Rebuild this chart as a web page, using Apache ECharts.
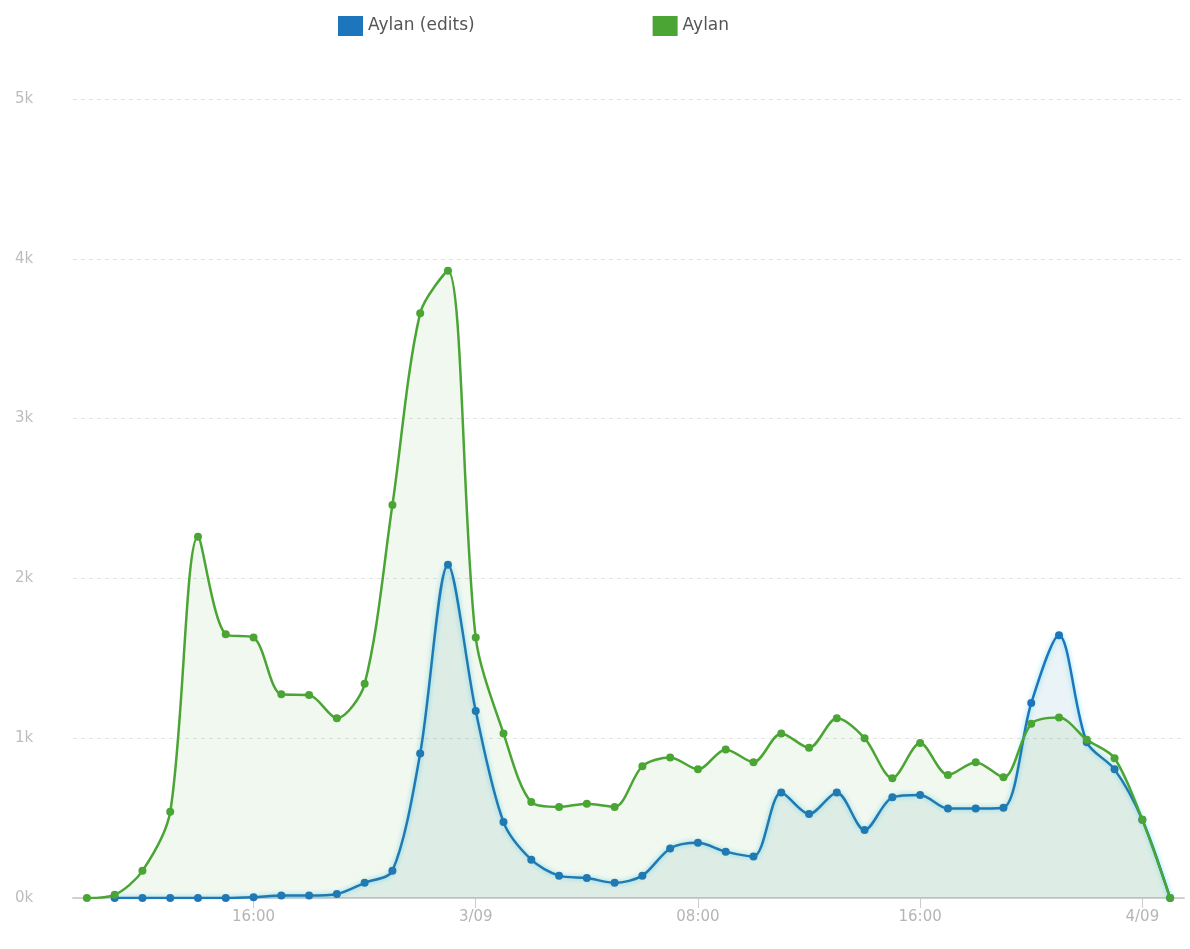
<!DOCTYPE html>
<html>
<head>
<meta charset="utf-8">
<style>
  html, body { margin: 0; padding: 0; background: #ffffff; }
  #chart { width: 1190px; height: 949px; }
</style>
<script src="https://cdn.jsdelivr.net/npm/echarts@6/dist/echarts.min.js"></script>
</head>
<body>
<div id="chart"></div>
<script>
// Hourly categories from 2/09 10:00 to 4/09 01:00
const categories = [
  "2/09 10:00","2/09 11:00","2/09 12:00","2/09 13:00","2/09 14:00","2/09 15:00",
  "2/09 16:00","2/09 17:00","2/09 18:00","2/09 19:00","2/09 20:00","2/09 21:00",
  "2/09 22:00","2/09 23:00","3/09 00:00","3/09 01:00","3/09 02:00","3/09 03:00",
  "3/09 04:00","3/09 05:00","3/09 06:00","3/09 07:00","3/09 08:00","3/09 09:00",
  "3/09 10:00","3/09 11:00","3/09 12:00","3/09 13:00","3/09 14:00","3/09 15:00",
  "3/09 16:00","3/09 17:00","3/09 18:00","3/09 19:00","3/09 20:00","3/09 21:00",
  "3/09 22:00","3/09 23:00","4/09 00:00","4/09 01:00"
];

const seriesNames = ["Aylan (edits)", "Aylan"];

const aylanEdits = [
  null, 0, 0, 0, 0, 0,
  5, 15, 15, 25, 95, 170,
  905, 2085, 1170, 475, 240, 140,
  125, 95, 140, 310, 345, 290,
  260, 660, 525, 660, 425, 630,
  645, 560, 560, 565, 1220, 1645,
  975, 805, 490, 0
];

const aylan = [
  0, 20, 170, 540, 2260, 1650,
  1630, 1275, 1270, 1125, 1340, 2460,
  3660, 3925, 1630, 1030, 600, 570,
  590, 570, 825, 880, 805, 930,
  850, 1030, 940, 1125, 1000, 750,
  970, 770, 850, 755, 1090, 1130,
  990, 875, 490, 0
];

const yTickValues = [0, 1000, 2000, 3000, 4000, 5000];

const BLUE = '#1d76bb';
const GREEN = '#4aa534';

function xLabel(cat) {
  const parts = cat.split(' ');
  const hh = parseInt(parts[1].split(':')[0], 10);
  if (hh === 0) return parts[0];
  return parts[1];
}
function showTick(idx) {
  const hh = parseInt(categories[idx].split(' ')[1].split(':')[0], 10);
  return hh % 8 === 0;
}

const chart = echarts.init(document.getElementById('chart'), null, { renderer: 'canvas' });

chart.setOption({
  animation: false,
  backgroundColor: '#ffffff',
  textStyle: { fontFamily: 'DejaVu Sans' },
  legend: {
    data: seriesNames,
    top: 11,
    left: 333,
    itemWidth: 25,
    itemHeight: 20,
    itemGap: 178,
    icon: 'rect',
    textStyle: { fontSize: 17, color: '#555555', fontFamily: 'DejaVu Sans' }
  },
  grid: { left: 73, right: 6, top: 99, bottom: 51, containLabel: false },
  xAxis: {
    type: 'category',
    data: categories,
    boundaryGap: true,
    axisLine: { show: true, lineStyle: { color: '#d0d0d0', width: 2 } },
    axisTick: {
      show: true,
      alignWithLabel: true,
      interval: function (idx) { return showTick(idx); },
      length: 10,
      lineStyle: { color: '#cccccc' }
    },
    axisLabel: {
      interval: function (idx) { return showTick(idx); },
      formatter: function (v) { return xLabel(v); },
      color: '#b5b5b5',
      fontSize: 15,
      margin: 12
    },
    splitLine: { show: false }
  },
  yAxis: {
    type: 'value',
    min: yTickValues[0],
    max: yTickValues[yTickValues.length - 1],
    interval: 1000,
    axisLine: { show: false },
    axisTick: { show: false },
    axisLabel: {
      formatter: function (v) { return (v / 1000) + 'k'; },
      color: '#bdbdbd',
      fontSize: 15,
      align: 'left',
      margin: 58
    },
    splitLine: { show: true, lineStyle: { color: '#e4e4e4', type: [4, 4], width: 1 } }
  },
  series: [
    {
      name: seriesNames[0],
      type: 'line',
      data: aylanEdits,
      smooth: 0.3,
      symbol: 'circle',
      symbolSize: 8,
      showAllSymbol: true,
      connectNulls: false,
      itemStyle: { color: BLUE },
      lineStyle: { color: BLUE, width: 2.5, shadowColor: 'rgba(110,215,245,0.9)', shadowBlur: 5 },
      areaStyle: { color: 'rgba(20,125,150,0.13)' },
      z: 2
    },
    {
      name: seriesNames[1],
      type: 'line',
      data: aylan,
      smooth: 0.3,
      symbol: 'circle',
      symbolSize: 8,
      showAllSymbol: true,
      itemStyle: { color: GREEN },
      lineStyle: { color: GREEN, width: 2.5 },
      areaStyle: { color: 'rgba(74,165,52,0.11)' },
      z: 3
    }
  ]
});
</script>
</body>
</html>
